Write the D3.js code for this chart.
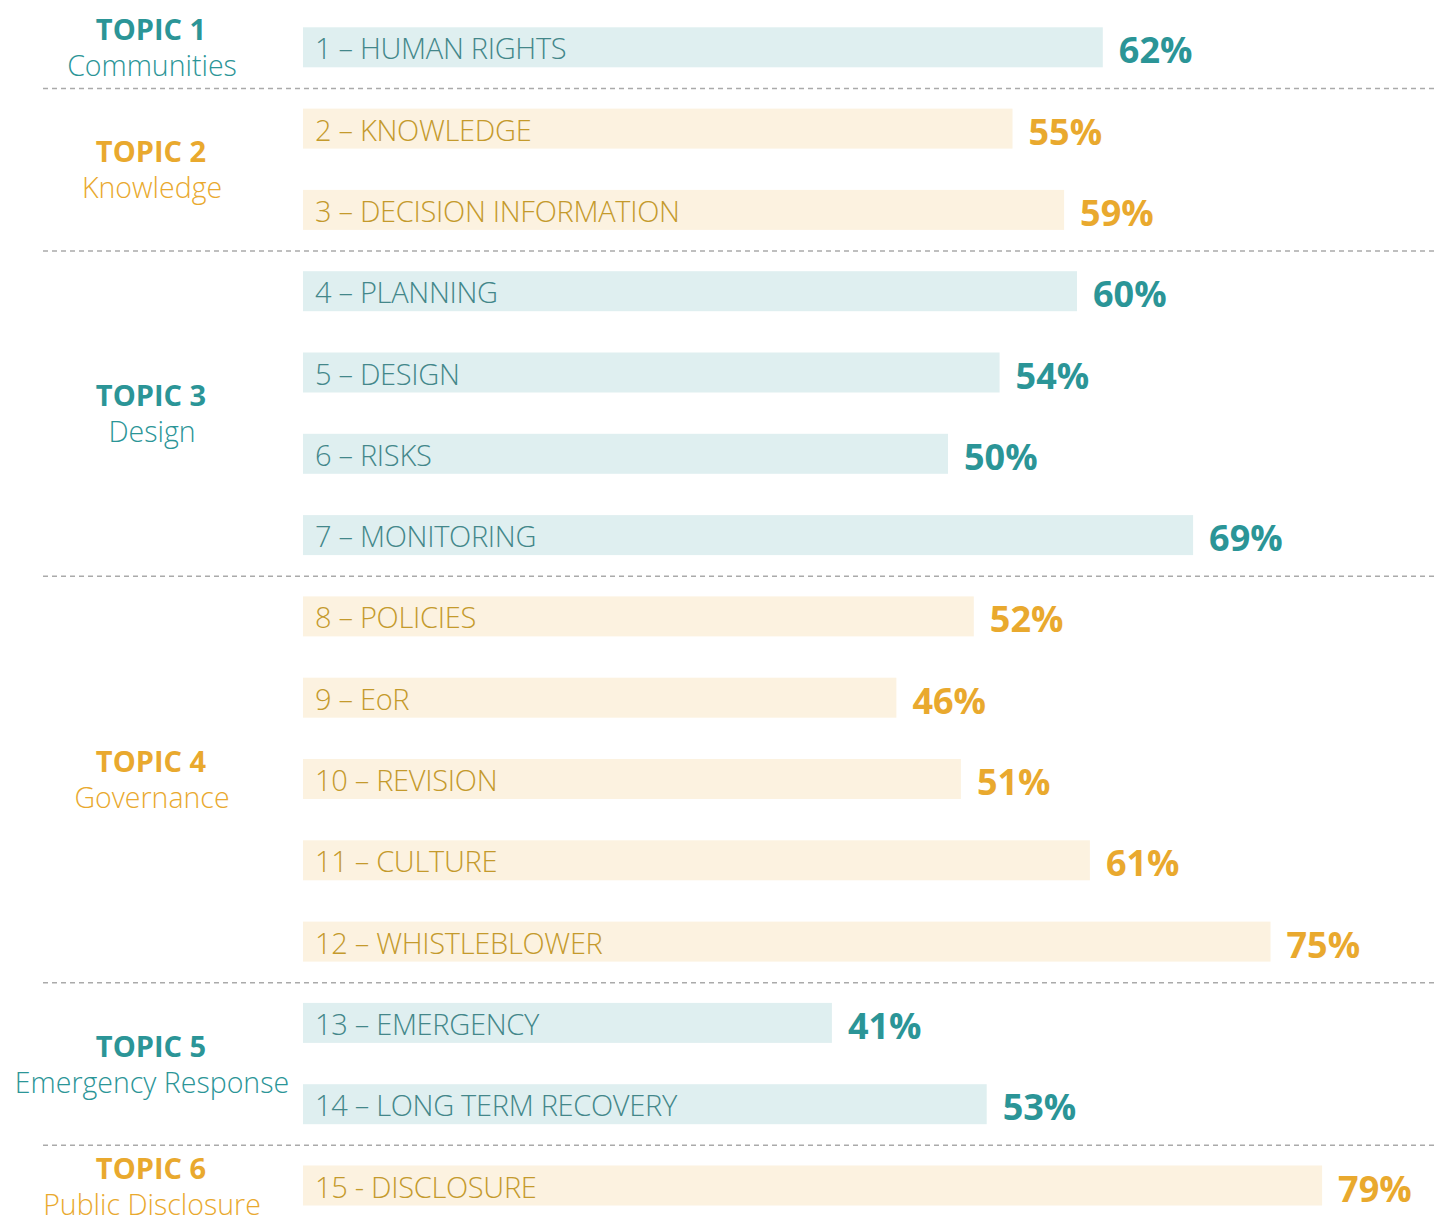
<!DOCTYPE html>
<html>
<head>
<meta charset="utf-8" />
<title>Topics</title>
<style>
  body { margin: 0; background: #fff; }
  text { font-family: "Open Sans", "Noto Sans", sans-serif; }
</style>
</head>
<body>
<svg id="chart" width="1437" height="1223"></svg>
<script src="https://d3js.org/d3.v7.min.js"></script>
<script>

// bar data
var labels = ["1 – HUMAN RIGHTS", "2 – KNOWLEDGE", "3 – DECISION INFORMATION", "4 – PLANNING",
  "5 – DESIGN", "6 – RISKS", "7 – MONITORING", "8 – POLICIES", "9 – EoR", "10 – REVISION",
  "11 – CULTURE", "12 – WHISTLEBLOWER", "13 – EMERGENCY", "14 – LONG TERM RECOVERY", "15 - DISCLOSURE"];
var values = [62, 55, 59, 60, 54, 50, 69, 52, 46, 51, 61, 75, 41, 53, 79];
var barTopic = [1, 2, 2, 3, 3, 3, 3, 4, 4, 4, 4, 4, 5, 5, 6];

// topic data
var topicNames = ["TOPIC 1", "TOPIC 2", "TOPIC 3", "TOPIC 4", "TOPIC 5", "TOPIC 6"];
var topicSubs = ["Communities", "Knowledge", "Design", "Governance", "Emergency Response", "Public Disclosure"];

var teal = {bar: "#dfeff0", text: "#43878a", strong: "#2b9597"};
var gold = {bar: "#fcf2e0", text: "#c49a2c", strong: "#e9a92e"};
function pal(t){ return t % 2 == 1 ? teal : gold; }

var svg = d3.select("#chart");

var x = d3.scaleLinear().domain([0, 100]).range([303, 303 + 1290]);
var y = d3.scalePoint().domain(d3.range(labels.length)).range([47.3, 1185.5]);
var barH = 40;

var rows = svg.selectAll("g.row")
  .data(labels.map(function(l, i){ return {label: l, value: values[i], topic: barTopic[i], i: i}; }))
  .enter().append("g")
  .attr("class", "row");

rows.append("rect")
  .attr("x", x(0))
  .attr("y", function(d){ return y(d.i) - barH / 2; })
  .attr("width", function(d){ return x(d.value) - x(0); })
  .attr("height", barH)
  .attr("fill", function(d){ return pal(d.topic).bar; });

rows.append("text")
  .attr("x", x(0) + 12)
  .attr("y", function(d){ return y(d.i) + 12; })
  .attr("font-size", 29)
  .attr("font-weight", 300)
  .attr("letter-spacing", -0.3)
  .attr("fill", function(d){ return pal(d.topic).text; })
  .text(function(d){ return d.label; });

rows.append("text")
  .attr("x", function(d){ return x(d.value) + 16; })
  .attr("y", function(d){ return y(d.i) + 16; })
  .attr("font-size", 36)
  .attr("font-weight", 700)
  .attr("fill", function(d){ return pal(d.topic).strong; })
  .text(function(d){ return d.value + "%"; });

// topic labels + separators
topicNames.forEach(function(name, k){
  var t = k + 1;
  var idx = d3.range(labels.length).filter(function(i){ return barTopic[i] == t; });
  var cy = (y(idx[0]) + y(idx[idx.length - 1])) / 2;
  svg.append("text")
    .attr("x", 151).attr("y", cy - 7)
    .attr("text-anchor", "middle")
    .attr("font-size", 29).attr("font-weight", 700)
    .attr("fill", pal(t).strong)
    .text(name);
  svg.append("text")
    .attr("x", 152).attr("y", cy + 29)
    .attr("text-anchor", "middle")
    .attr("font-size", 28.5).attr("font-weight", 300)
    .attr("fill", pal(t).strong)
    .text(topicSubs[k]);
  if (k > 0) {
    var ly = (y(idx[0] - 1) + y(idx[0])) / 2 + 0.5;
    svg.append("line")
      .attr("x1", 43).attr("x2", 1437)
      .attr("y1", ly).attr("y2", ly)
      .attr("stroke", "#aaaaaa")
      .attr("stroke-width", 1.5)
      .attr("stroke-dasharray", "5,4");
  }
});

</script>
</body>
</html>
